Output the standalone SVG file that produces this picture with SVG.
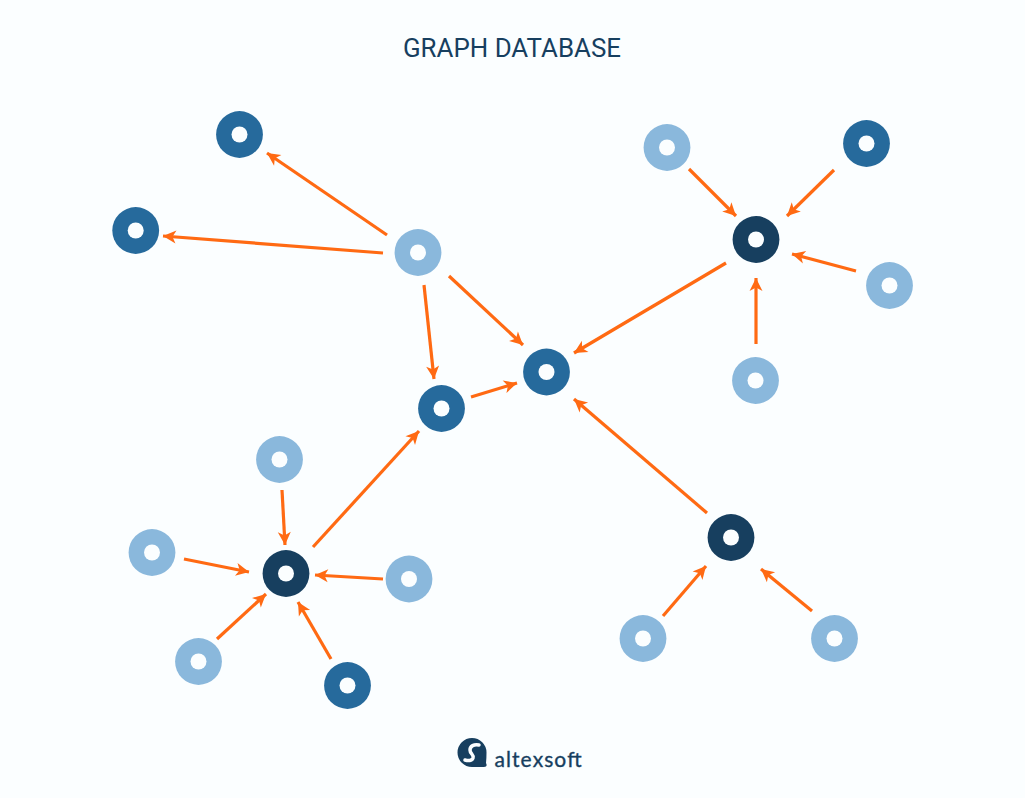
<svg xmlns="http://www.w3.org/2000/svg" width="1025" height="798" viewBox="0 0 1025 798">
<style>
.c{stroke:#ff6a13;stroke-width:3.200;fill:none;marker-end:url(#a)}
.m{fill:#266a9c}.l{fill:#8ab8dc}.n{fill:#173f5f}
.h{fill:#fbfeff}
text{fill:#173f5f}
</style>
<defs>
<marker id="a" markerUnits="userSpaceOnUse" markerWidth="18" markerHeight="16" refX="14" refY="8" orient="auto">
<path d="M1 1.500L14 8L1 14.500L4.500 8Z" fill="#ff6a13"/>
</marker>
</defs>
<rect width="1025" height="798" fill="#fbfeff"/>
<text id="title" x="403" y="57" font-family="Roboto, sans-serif" font-size="26" textLength="218" lengthAdjust="spacingAndGlyphs">GRAPH DATABASE</text>
<g id="connectors">
<path class="c" d="M387 235L267 153"/>
<path class="c" d="M383 253L163 236"/>
<path class="c" d="M424 285L434 379"/>
<path class="c" d="M449 276L523 345"/>
<path class="c" d="M471 397L517 383"/>
<path class="c" d="M726 263L574 353"/>
<path class="c" d="M689 169L736 216"/>
<path class="c" d="M834 170L787 216"/>
<path class="c" d="M856 271L792 254"/>
<path class="c" d="M756 344L756 278"/>
<path class="c" d="M707 513L574 399"/>
<path class="c" d="M663 616L706 566"/>
<path class="c" d="M812 611L761 569"/>
<path class="c" d="M313 547L419 431"/>
<path class="c" d="M282 490L285 545"/>
<path class="c" d="M184 559L249 572"/>
<path class="c" d="M383 579L315 575"/>
<path class="c" d="M217 639L266 594"/>
<path class="c" d="M331 659L298 602"/>
</g>
<g id="node-1"><circle class="m" cx="239.500" cy="134.500" r="23.400"/><circle class="h" cx="239.500" cy="134.500" r="8"/></g>
<g id="node-2"><circle class="m" cx="135.700" cy="230.500" r="23.400"/><circle class="h" cx="135.700" cy="230.500" r="8"/></g>
<g id="node-3"><circle class="l" cx="418" cy="252.500" r="23.400"/><circle class="h" cx="418" cy="252.500" r="8"/></g>
<g id="node-4"><circle class="m" cx="546.500" cy="372" r="23.400"/><circle class="h" cx="546.500" cy="372" r="8"/></g>
<g id="node-5"><circle class="m" cx="441.500" cy="408.500" r="23.400"/><circle class="h" cx="441.500" cy="408.500" r="8"/></g>
<g id="node-6"><circle class="l" cx="667" cy="147.500" r="23.400"/><circle class="h" cx="667" cy="147.500" r="8"/></g>
<g id="node-7"><circle class="m" cx="866.500" cy="143.500" r="23.400"/><circle class="h" cx="866.500" cy="143.500" r="8"/></g>
<g id="node-8"><circle class="n" cx="756" cy="239.500" r="23.400"/><circle class="h" cx="756" cy="239.500" r="8"/></g>
<g id="node-9"><circle class="l" cx="889.500" cy="285.500" r="23.400"/><circle class="h" cx="889.500" cy="285.500" r="8"/></g>
<g id="node-10"><circle class="l" cx="755.500" cy="380.500" r="23.400"/><circle class="h" cx="755.500" cy="380.500" r="8"/></g>
<g id="node-11"><circle class="n" cx="731" cy="537.500" r="23.400"/><circle class="h" cx="731" cy="537.500" r="8"/></g>
<g id="node-12"><circle class="l" cx="643" cy="638.500" r="23.400"/><circle class="h" cx="643" cy="638.500" r="8"/></g>
<g id="node-13"><circle class="l" cx="834.500" cy="638.500" r="23.400"/><circle class="h" cx="834.500" cy="638.500" r="8"/></g>
<g id="node-14"><circle class="l" cx="279.500" cy="459.500" r="23.400"/><circle class="h" cx="279.500" cy="459.500" r="8"/></g>
<g id="node-15"><circle class="l" cx="152" cy="552.500" r="23.400"/><circle class="h" cx="152" cy="552.500" r="8"/></g>
<g id="node-16"><circle class="n" cx="286" cy="573.500" r="23.400"/><circle class="h" cx="286" cy="573.500" r="8"/></g>
<g id="node-17"><circle class="l" cx="409" cy="579" r="23.400"/><circle class="h" cx="409" cy="579" r="8"/></g>
<g id="node-18"><circle class="l" cx="198.500" cy="661.500" r="23.400"/><circle class="h" cx="198.500" cy="661.500" r="8"/></g>
<g id="node-19"><circle class="m" cx="347.500" cy="685.500" r="23.400"/><circle class="h" cx="347.500" cy="685.500" r="8"/></g>
<g id="logo">
<path d="M472 738A14.500 14.500 0 1 0 472 767L484 767Q488 767 486 763Q486.500 758 486.500 752.500A14.500 14.500 0 0 0 472 738Z" fill="#173f5f"/>
<path d="M479 745C474 744 470 746 470 750C470 754 474 754 473 758C472 761 468 761 465 760" fill="none" stroke="#fbfeff" stroke-width="3.500" stroke-linecap="round"/>
<text x="494.500" y="767" font-family="Lato, sans-serif" font-size="21" font-weight="400" stroke="#173f5f" stroke-width=".35" textLength="87" lengthAdjust="spacing">altexsoft</text>
</g>
</svg>
